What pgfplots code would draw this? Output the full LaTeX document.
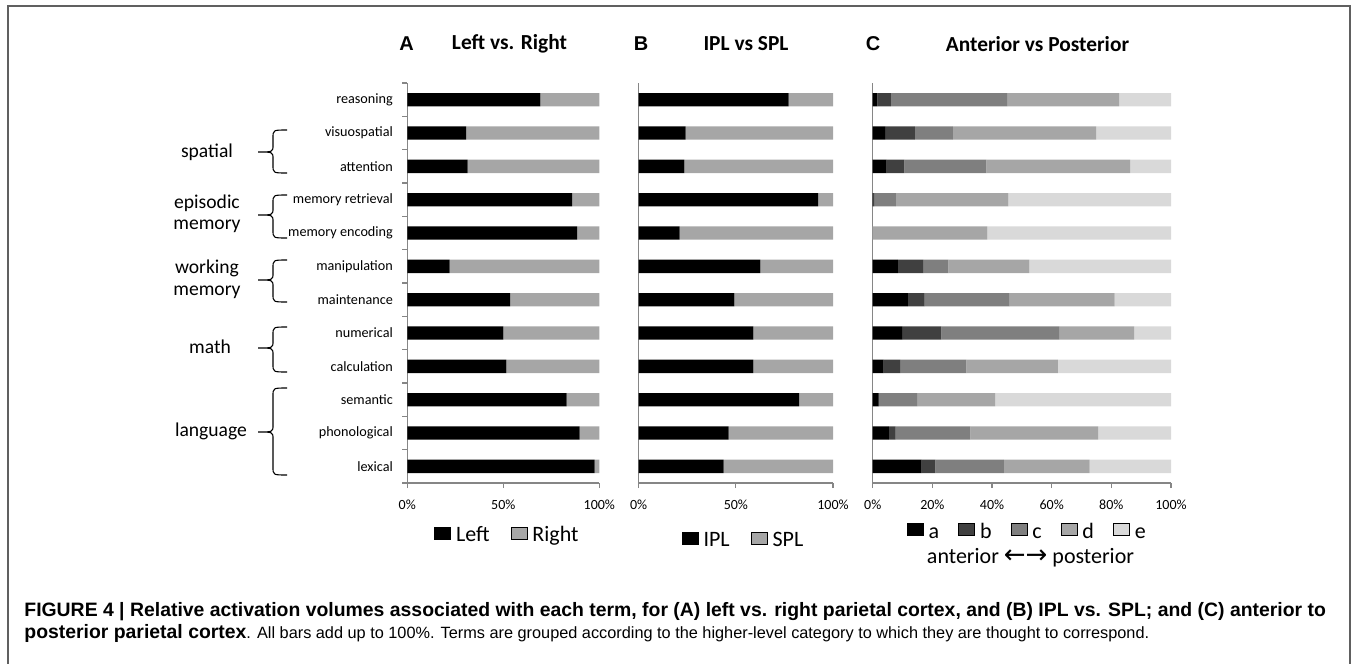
\documentclass[border=0pt]{standalone}
\usepackage{fontspec}
\setmainfont{Carlito}
\newfontfamily\arialf{Liberation Sans}
\newfontfamily\dejavu{DejaVu Sans}
\usepackage{pgfplots}
\usepackage{pgfplotstable}
\pgfplotsset{compat=1.18}
\definecolor{cb}{HTML}{404040}
\definecolor{cc}{HTML}{7F7F7F}
\definecolor{cd}{HTML}{A6A6A6}
\definecolor{ce}{HTML}{D9D9D9}
\definecolor{axgray}{HTML}{868686}
\definecolor{framegray}{HTML}{606060}
\newcommand\ls{\rule[-2.4pt]{0pt}{10.4pt}}

\pgfplotstableread{
y left right ipl spl
0 97.6 2.4 43.7 56.3
1 89.8 10.2 46.3 53.7
2 83.0 17.0 82.5 17.5
3 51.6 48.4 59.0 41.0
4 50.0 50.0 59.0 41.0
5 53.6 46.4 49.2 50.8
6 22.0 78.0 62.6 37.4
7 88.4 11.6 21.1 78.9
8 85.9 14.1 92.3 7.7
9 31.4 68.6 23.5 76.5
10 30.6 69.4 24.2 75.8
11 69.3 30.7 77.2 22.8
}\tabAB

\pgfplotstableread{
y a b c d e
0 16.4 4.6 23.0 28.7 27.3
1 5.4 2.3 25.0 42.9 24.4
2 1.8 0.3 12.8 26.1 59.0
3 3.7 5.5 22.2 30.7 37.9
4 9.9 13.1 39.5 25.1 12.4
5 11.8 5.6 28.5 35.2 18.9
6 8.4 8.5 8.5 27.1 47.5
7 0 0 0 38.4 61.6
8 0.3 0.2 7.3 37.7 54.5
9 4.7 5.9 27.5 48.2 13.7
10 4.2 9.9 12.8 48.0 25.1
11 1.6 4.5 39.0 37.5 17.4
}\tabC

\pgfplotsset{
  xbar legend/.style={legend image code/.code={\fill[##1] (0pt,-3.25pt) rectangle (6.5pt,3.25pt);}},
  panel/.style={
    scale only axis, height=200pt,
    xbar stacked, bar width=0.4,
    xmin=0, xmax=100, ymin=-0.5, ymax=11.5,
    axis x line*=bottom, axis y line*=left,
    axis line style={axgray, line width=0.6pt},
    tick style={axgray, line width=0.6pt},
    tick align=outside, major tick length=2.5pt,
    xtick={0,50,100}, xticklabels={0\%,50\%,100\%},
    xticklabel style={font=\fontsize{7}{8}\selectfont, yshift=-2.5pt},
    clip=false,
    legend style={draw=none, fill=none, font=\fontsize{11}{13}\selectfont,
      legend columns=-1, anchor=center, nodes={inner sep=1.5pt},
      /tikz/every odd column/.append style={column sep=1pt},
      /tikz/every even column/.append style={column sep=9pt}},
  },
}

\begin{document}
\begin{tikzpicture}
\path[use as bounding box] (0,0) rectangle (678pt,-332pt);
\begin{scope}[x=0.5pt,y=-0.5pt]
  % frame
  \draw[framegray, line width=0.75pt] (8,670) -- (8,6) -- (1350,6) -- (1350,670);
  % titles
  \node[font=\arialf\bfseries\fontsize{10}{12}\selectfont] at (406.5,44) {A};
  \node[font=\bfseries\fontsize{10.7}{12}\selectfont] at (509.5,44) {Left vs. Right};
  \node[font=\arialf\bfseries\fontsize{10}{12}\selectfont] at (641,44) {B};
  \node[font=\bfseries\fontsize{10.7}{12}\selectfont] at (746,44) {IPL vs SPL};
  \node[font=\arialf\bfseries\fontsize{10}{12}\selectfont] at (873,44) {C};
  \node[font=\bfseries\fontsize{10.7}{12}\selectfont] at (1037.5,44) {Anterior vs Posterior};
  % group labels
  \begin{scope}[every node/.style={font=\fontsize{9.8}{11}\selectfont, inner sep=0pt}]
    \node at (207,152.7) {spatial};
    \node at (207,203.3) {episodic};
    \node at (207,226.7) {memory};
    \node at (207,268) {working};
    \node at (207,292) {memory};
    \node at (210,347) {math};
    \node at (211,431.7) {language};
  \end{scope}
  % braces
  \newcommand\gbrace[3]{%
    \draw[black, line width=0.55pt] (287,#1) .. controls (273,#1) .. (273,#1+8) -- (273,#3-7)
      .. controls (273,#3) .. (258,#3) .. controls (273,#3) .. (273,#3+7) -- (273,#2-8)
      .. controls (273,#2) .. (287,#2);}
  \gbrace{130}{173}{152}
  \gbrace{195}{238}{215}
  \gbrace{260}{302}{280}
  \gbrace{327}{372}{348}
  \gbrace{388}{475}{432}
  % caption
  \node[anchor=base west, inner sep=0pt, font=\arialf\bfseries\fontsize{9.7}{11}\selectfont] at (24,616)
    {FIGURE 4 | Relative activation volumes associated with each term, for (A) left vs. right parietal cortex, and (B) IPL vs. SPL; and (C) anterior to};
  \node[anchor=base west, inner sep=0pt, font=\arialf\fontsize{8.15}{10}\selectfont] at (24,638)
    {{\fontsize{9.7}{11}\selectfont\bfseries posterior parietal cortex}. All bars add up to 100\%. Terms are grouped according to the higher-level category to which they are thought to correspond.};
\end{scope}

% Panel A
\begin{axis}[panel, at={(203.65pt,-241.5pt)}, anchor=south west, width=96pt,
  ytick={-0.5,0.5,...,11.5}, y tick label as interval,
  yticklabels={lexical,phonological,semantic,calculation,numerical,maintenance,manipulation,memory encoding,memory retrieval,attention,visuospatial,reasoning},
  yticklabel style={font=\fontsize{7.1}{8}\selectfont, xshift=-1.2pt},
  legend style={at={(0.524,-0.13)}},
]
\addplot[fill=black, draw=none] table[x=left, y=y] {\tabAB};
\addplot[fill=cd, draw=none] table[x=right, y=y] {\tabAB};
\legend{\ls Left, \ls Right}
\end{axis}

% Panel B
\begin{axis}[panel, at={(319.35pt,-241.5pt)}, anchor=south west, width=97.15pt,
  ytick=\empty,
  legend style={at={(0.542,-0.1425)}},
]
\addplot[fill=black, draw=none] table[x=ipl, y=y] {\tabAB};
\addplot[fill=cd, draw=none] table[x=spl, y=y] {\tabAB};
\legend{\ls IPL, \ls SPL}
\end{axis}

% Panel C
\begin{axis}[panel, at={(436.35pt,-241.5pt)}, anchor=south west, width=149.15pt,
  ytick=\empty,
  xtick={0,20,40,60,80,100}, xticklabels={0\%,20\%,40\%,60\%,80\%,100\%},
  legend style={at={(0.52,-0.122)}, /tikz/every even column/.append style={column sep=8pt}},
]
\addplot[fill=black, draw=none] table[x=a, y=y] {\tabC};
\addplot[fill=cb, draw=none] table[x=b, y=y] {\tabC};
\addplot[fill=cc, draw=none] table[x=c, y=y] {\tabC};
\addplot[fill=cd, draw=none] table[x=d, y=y] {\tabC};
\addplot[fill=ce, draw=none] table[x=e, y=y] {\tabC};
\legend{\ls a, \ls b, \ls c, \ls d, \ls e}
\node[font=\fontsize{11}{13}\selectfont] at (axis description cs:0.529,-0.187)
  {anterior {\dejavu\fontsize{13}{13}\selectfont ←→} posterior};
\end{axis}
\end{tikzpicture}
\end{document}
